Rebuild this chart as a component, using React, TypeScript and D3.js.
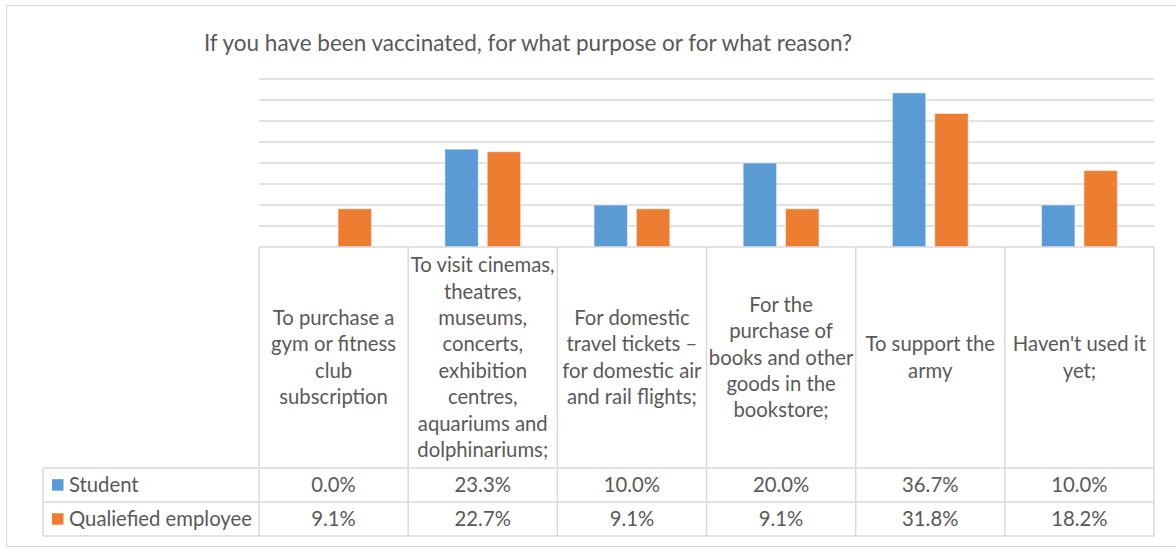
import React from "react";
import * as d3 from "d3";

const title = "If you have been vaccinated, for what purpose or for what reason?";
const categoryLines: string[][] = [
  ["To purchase a", "gym or fitness", "club", "subscription"],
  ["To visit cinemas,", "theatres,", "museums,", "concerts,", "exhibition", "centres,", "aquariums and", "dolphinariums;"],
  ["For domestic", "travel tickets \u2013", "for domestic air", "and rail flights;"],
  ["For the", "purchase of", "books and other", "goods in the", "bookstore;"],
  ["To support the", "army"],
  ["Haven't used it", "yet;"],
];
const seriesNames = ["Student", "Qualiefied employee"];
const studentValues = [0.0, 23.3, 10.0, 20.0, 36.7, 10.0];
const employeeValues = [9.1, 22.7, 9.1, 9.1, 31.8, 18.2];
const seriesColors = ["#5B9BD5", "#ED7D31"];
const yTicks = [0, 5, 10, 15, 20, 25, 30, 35, 40];

const W = 1176;
const H = 547;
const FONT = "Lato, 'Open Sans', sans-serif";
const TEXT = "#595959";
const GRID = "#D9D9D9";

export default function App() {
  const plotL = 259, plotR = 1154, plotT = 79, plotB = 247;
  const tableL = 43;
  const headerB = 468, row1B = 502, row2B = 536;
  const x = d3.scaleBand<number>().domain(d3.range(6)).range([plotL, plotR]).padding(0);
  const y = d3.scaleLinear().domain([0, 40]).range([plotB, plotT]);
  const bw = x.bandwidth() * 0.224;
  const gap = x.bandwidth() * 0.06;
  const series = [studentValues, employeeValues];
  const lineH = 26.4;
  const rowsB = [row1B, row2B];
  const rowsT = [headerB, row1B];
  const fs = 20.3;

  return (
    <svg width={W} height={H} style={{ position: "absolute", left: 0, top: 0, background: "#fff" }}
      fontFamily={FONT}>
      <rect x={6.5} y={5.5} width={W + 10} height={541} fill="#fff" stroke={GRID} strokeWidth={1} />
      <text x={528} y={51} textAnchor="middle" fontSize={22.5} fill={TEXT}>{title}</text>
      {yTicks.slice(1).map((t) => (
        <line key={t} x1={plotL} x2={plotR} y1={y(t)} y2={y(t)} stroke={GRID} strokeWidth={1.5} />
      ))}
      {series.map((vals, si) =>
        vals.map((v, i) => {
          const cx = (x(i) as number) + x.bandwidth() / 2;
          const bx = si === 0 ? cx - gap / 2 - bw : cx + gap / 2;
          return (
            <rect key={`${si}-${i}`} x={bx} y={y(v)} width={bw} height={Math.max(0, y(0) - y(v))}
              fill={seriesColors[si]} stroke="#fff" strokeOpacity={0.5} strokeWidth={1} />
          );
        })
      )}
      {/* table grid */}
      <g stroke={GRID} strokeWidth={1.5} fill="none">
        <line x1={plotL} x2={plotR} y1={plotB} y2={plotB} />
        <line x1={tableL} x2={plotR} y1={headerB} y2={headerB} />
        <line x1={tableL} x2={plotR} y1={row1B} y2={row1B} />
        <line x1={tableL} x2={plotR} y1={row2B} y2={row2B} />
        <line x1={tableL} x2={tableL} y1={headerB} y2={row2B} />
        {d3.range(7).map((i) => {
          const xx = i < 6 ? (x(i) as number) : plotR;
          return <line key={i} x1={xx} x2={xx} y1={plotB} y2={row2B} />;
        })}
      </g>
      {categoryLines.map((lines, i) => {
        const cx = (x(i) as number) + x.bandwidth() / 2;
        const mid = (plotB + headerB) / 2;
        const start = mid - ((lines.length - 1) * lineH) / 2;
        return (
          <text key={i} textAnchor="middle" fontSize={fs} fill={TEXT}>
            {lines.map((l, j) => (
              <tspan key={j} x={cx} y={start + j * lineH} dy="0.35em">{l}</tspan>
            ))}
          </text>
        );
      })}
      {seriesNames.map((name, si) => {
        const cy = (rowsT[si] + rowsB[si]) / 2;
        return (
          <g key={name}>
            <rect x={52} y={cy - 5.8} width={11.5} height={11.5} fill={seriesColors[si]} />
            <text x={69} y={cy} dy="0.35em" fontSize={fs} fill={TEXT}>{name}</text>
            {series[si].map((v, i) => (
              <text key={i} x={(x(i) as number) + x.bandwidth() / 2} y={cy} dy="0.35em"
                textAnchor="middle" fontSize={fs} fill={TEXT}>{d3.format(".1f")(v) + "%"}</text>
            ))}
          </g>
        );
      })}
    </svg>
  );
}
